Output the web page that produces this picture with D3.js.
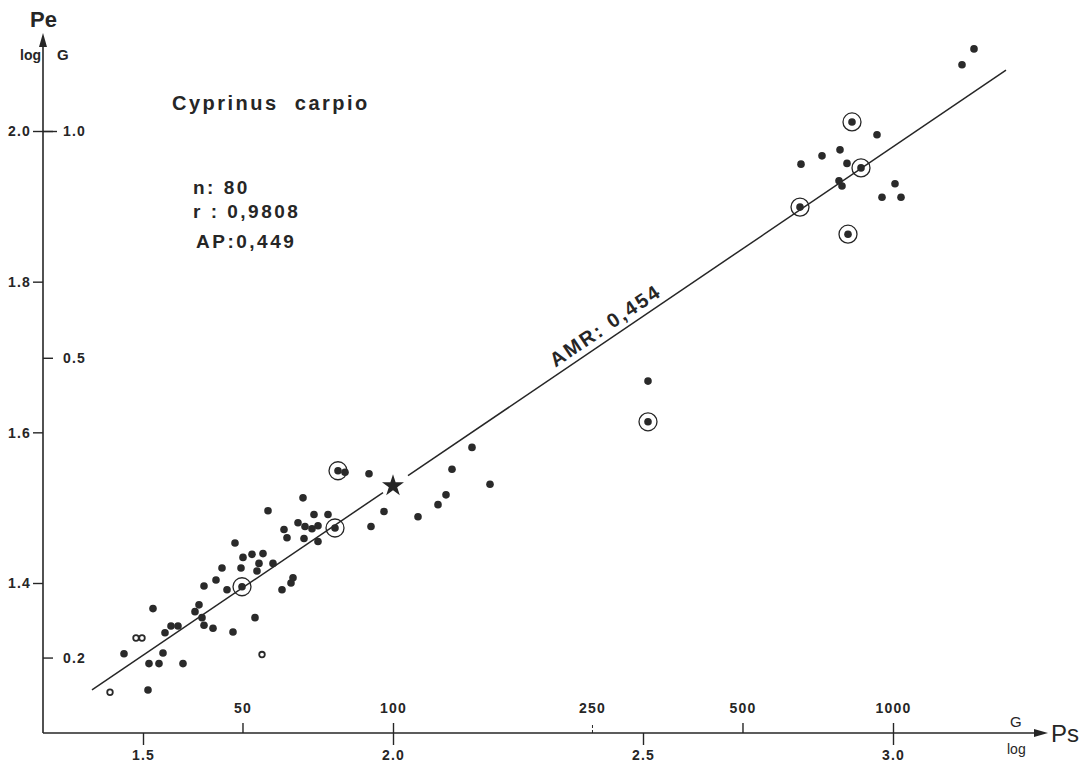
<!DOCTYPE html>
<html lang="en">
	<head>
		<meta charset="utf-8">
		<title>Cyprinus carpio: Pe vs Ps (log)</title>
		<script type="text/javascript" src="https://cdn.jsdelivr.net/npm/d3@7"></script>
		<style type="text/css">
			body {
				margin: 0;
				background: #fff;
			}

			text {
				font-family: "Liberation Sans", Arial, Helvetica, sans-serif;
				fill: #262626;
			}

			.tick text {
				font-size: 14px;
				font-weight: bold;
				letter-spacing: 1.2px;
			}

			.tick line {
				stroke: #262626;
				stroke-width: 1.4px;
			}

			.note {
				font-size: 19px;
				font-weight: bold;
				letter-spacing: 2.5px;
				white-space: pre;
			}
		</style>
	</head>
	<body>
		<script type="text/javascript">

			//Data (log10 of weights)
			var psLog = [1.434, 1.510, 1.462, 1.512, 1.532, 1.540, 1.580, 1.486, 1.498, 1.544,
				1.556, 1.570, 1.520, 1.604, 1.612, 1.618, 1.622, 1.640, 1.680, 1.724,
				1.738, 1.622, 1.646, 1.668, 1.698, 1.658, 1.684, 1.696, 1.700, 1.718,
				1.740, 1.728, 1.732, 1.760, 1.750, 1.778, 1.796, 1.800, 1.782, 1.788,
				1.810, 1.820, 1.822, 1.824, 1.838, 1.850, 1.842, 1.870, 1.850, 1.884,
				1.890, 1.904, 1.952, 1.982, 1.956, 2.050, 2.090, 2.106, 2.118, 2.158,
				2.194, 2.510, 2.510, 2.918, 2.968, 2.894, 2.858, 2.816, 2.908, 2.936,
				2.892, 2.898, 3.004, 2.978, 3.016, 2.814, 2.910, 3.138, 3.162]

			var peLog = [1.255, 1.258, 1.306, 1.293, 1.293, 1.307, 1.293, 1.327, 1.327, 1.334,
				1.343, 1.343, 1.366, 1.362, 1.371, 1.354, 1.344, 1.340, 1.335, 1.354,
				1.305, 1.396, 1.404, 1.391, 1.395, 1.420, 1.453, 1.420, 1.434, 1.438,
				1.439, 1.416, 1.426, 1.426, 1.496, 1.391, 1.400, 1.407, 1.471, 1.460,
				1.480, 1.513, 1.459, 1.475, 1.472, 1.476, 1.491, 1.491, 1.455, 1.473,
				1.549, 1.547, 1.545, 1.495, 1.475, 1.488, 1.504, 1.517, 1.551, 1.580,
				1.531, 1.668, 1.614, 2.012, 1.995, 1.975, 1.967, 1.956, 1.957, 1.951,
				1.934, 1.927, 1.930, 1.912, 1.912, 1.899, 1.863, 2.088, 2.109]

			//points drawn with a ring round them, and the small open ones
			var circled = [24, 49, 50, 62, 63, 69, 75, 76]
			var open = [0, 7, 8, 20]

			//mean point (star) and the fitted line
			var meanPoint = [2.0, 1.529]
			var slope = 0.45
			var lineRange = [1.398, 3.226]
			var lineGap = [1.98, 2.03]

			//tick labels
			var psLogTicks = [1.5, 2.0, 2.5, 3.0]
			var psGTicks = [50, 100, 250, 500, 1000]
			var peLogTicks = [1.4, 1.6, 1.8, 2.0]
			var peGTicks = [0.2, 0.5, 1.0]

			var notes = ["n: 80", "r : 0,9808", "AP:0,449"]

			//Settings
			var w = 1083
			var h = 768

			var x = d3.scaleLinear().domain([1.5, 3.0]).range([143, 893])
			var y = d3.scaleLinear().domain([1.4, 2.0]).range([583, 131])

			var x0 = 43, y0 = 733
			var xEnd = 1048, yEnd = 33

			var svg = d3.select("body")
				.append("svg")
				.attr("width", w)
				.attr("height", h)

			var ink = "#262626"

			//axes lines with arrow heads
			svg.append("line")
				.attr("x1", x0).attr("y1", y0).attr("x2", xEnd - 8).attr("y2", y0)
				.attr("stroke", ink).attr("stroke-width", 1.6)
			svg.append("path")
				.attr("d", "M" + xEnd + "," + y0 + "l-14,-4l0,8z")
				.attr("fill", ink)
			svg.append("line")
				.attr("x1", x0).attr("y1", y0).attr("x2", x0).attr("y2", yEnd + 8)
				.attr("stroke", ink).attr("stroke-width", 1.6)
			svg.append("path")
				.attr("d", "M" + x0 + "," + yEnd + "l-4,14l8,0z")
				.attr("fill", ink)

			//bottom ticks (log)
			var axB = svg.append("g")
				.attr("transform", "translate(0," + y0 + ")")
				.call(d3.axisBottom(x).tickValues(psLogTicks).tickSize(12).tickPadding(5).tickFormat(d3.format(".1f")))
			axB.select(".domain").remove()

			//top ticks (G)
			var axT = svg.append("g")
				.attr("transform", "translate(0," + y0 + ")")
				.call(d3.axisTop(x).tickValues(psGTicks.map(Math.log10)).tickSize(10).tickPadding(10)
					.tickFormat(function(d, i) { return psGTicks[i] }))
			axT.select(".domain").remove()
			axT.selectAll(".tick line").filter(function(d, i) { return psGTicks[i] == 250 })
				.style("stroke-dasharray", "3,2").style("stroke-width", "1px")

			//left ticks (log)
			var axL = svg.append("g")
				.attr("transform", "translate(" + x0 + ",0)")
				.call(d3.axisLeft(y).tickValues(peLogTicks).tickSize(10).tickPadding(2).tickFormat(d3.format(".1f")))
			axL.select(".domain").remove()
			axL.selectAll(".tick line").filter(function(d) { return d == 2.0 }).attr("x2", 14).attr("x1", -10)

			//right ticks (G)
			var axR = svg.append("g")
				.attr("transform", "translate(" + x0 + ",0)")
				.call(d3.axisRight(y).tickValues(peGTicks.map(function(g) { return 2 + Math.log10(g) }))
					.tickSize(10).tickPadding(10)
					.tickFormat(function(d, i) { return d3.format(".1f")(peGTicks[i]) }))
			axR.select(".domain").remove()
			axR.selectAll(".tick text").attr("dy", "0.35em")
			axL.selectAll(".tick text").attr("dy", "0.35em")

			//axis names
			svg.append("text").attr("x", 30).attr("y", 27)
				.style("font-size", "22px").style("font-weight", "bold").text("Pe")
			svg.append("text").attr("x", 20).attr("y", 60)
				.style("font-size", "14px").style("font-weight", "bold").text("log")
			svg.append("text").attr("x", 57).attr("y", 60)
				.style("font-size", "15px").style("font-weight", "bold").text("G")
			svg.append("text").attr("x", 1051).attr("y", 742)
				.style("font-size", "24px").text("Ps")
			svg.append("text").attr("x", 1010).attr("y", 727)
				.style("font-size", "15px").text("G")
			svg.append("text").attr("x", 1007).attr("y", 754)
				.style("font-size", "14px").text("log")

			//fitted line, broken round the star
			function fit(v) { return meanPoint[1] + slope * (v - meanPoint[0]) }
			var segs = [[lineRange[0], lineGap[0]], [lineGap[1], lineRange[1]]]
			svg.selectAll("line.fit")
				.data(segs)
				.enter()
				.append("line")
				.attr("class", "fit")
				.attr("x1", function(d) { return x(d[0]) })
				.attr("y1", function(d) { return y(fit(d[0])) })
				.attr("x2", function(d) { return x(d[1]) })
				.attr("y2", function(d) { return y(fit(d[1])) })
				.attr("stroke", ink)
				.attr("stroke-width", 1.5)

			//AMR label along the line
			var angle = Math.atan2(y(fit(3)) - y(fit(2)), x(3) - x(2)) * 180 / Math.PI
			var lx = x(2.325), ly = y(fit(2.325)) - 8
			svg.append("text")
				.attr("class", "note")
				.attr("transform", "translate(" + lx + "," + ly + ") rotate(" + angle + ")")
				.style("font-size", "20px")
				.style("letter-spacing", "2.2px")
				.text("AMR: 0,454")

			//points
			var pts = psLog.map(function(v, i) { return { x: v, y: peLog[i], i: i } })

			svg.selectAll("circle.ring")
				.data(pts.filter(function(d) { return circled.indexOf(d.i) >= 0 }))
				.enter()
				.append("circle")
				.attr("class", "ring")
				.attr("cx", function(d) { return x(d.x) })
				.attr("cy", function(d) { return y(d.y) })
				.attr("r", 9)
				.attr("fill", "none")
				.attr("stroke", ink)
				.attr("stroke-width", 1.3)

			svg.selectAll("circle.pt")
				.data(pts)
				.enter()
				.append("circle")
				.attr("class", "pt")
				.attr("cx", function(d) { return x(d.x) })
				.attr("cy", function(d) { return y(d.y) })
				.attr("r", function(d) { return open.indexOf(d.i) >= 0 ? 2.8 : 3.8 })
				.attr("fill", function(d) { return open.indexOf(d.i) >= 0 ? "#fff" : "#2a2a2a" })
				.attr("stroke", "#2a2a2a")
				.attr("stroke-width", function(d) { return open.indexOf(d.i) >= 0 ? 1.8 : 0 })

			//mean point
			svg.append("path")
				.attr("d", d3.symbol().type(d3.symbolStar).size(150))
				.attr("transform", "translate(" + x(meanPoint[0]) + "," + y(meanPoint[1]) + ")")
				.attr("fill", ink)

			//species name and stats
			svg.append("text")
				.attr("class", "note")
				.attr("x", 172).attr("y", 110)
				.style("font-size", "20px")
				.text("Cyprinus  carpio")

			svg.selectAll("text.stat")
				.data(notes)
				.enter()
				.append("text")
				.attr("class", "note stat")
				.attr("x", function(d, i) { return i == 2 ? 196 : 193 })
				.attr("y", function(d, i) { return [194, 218, 248][i] })
				.text(function(d) { return d })

		</script>
	</body>
</html>
